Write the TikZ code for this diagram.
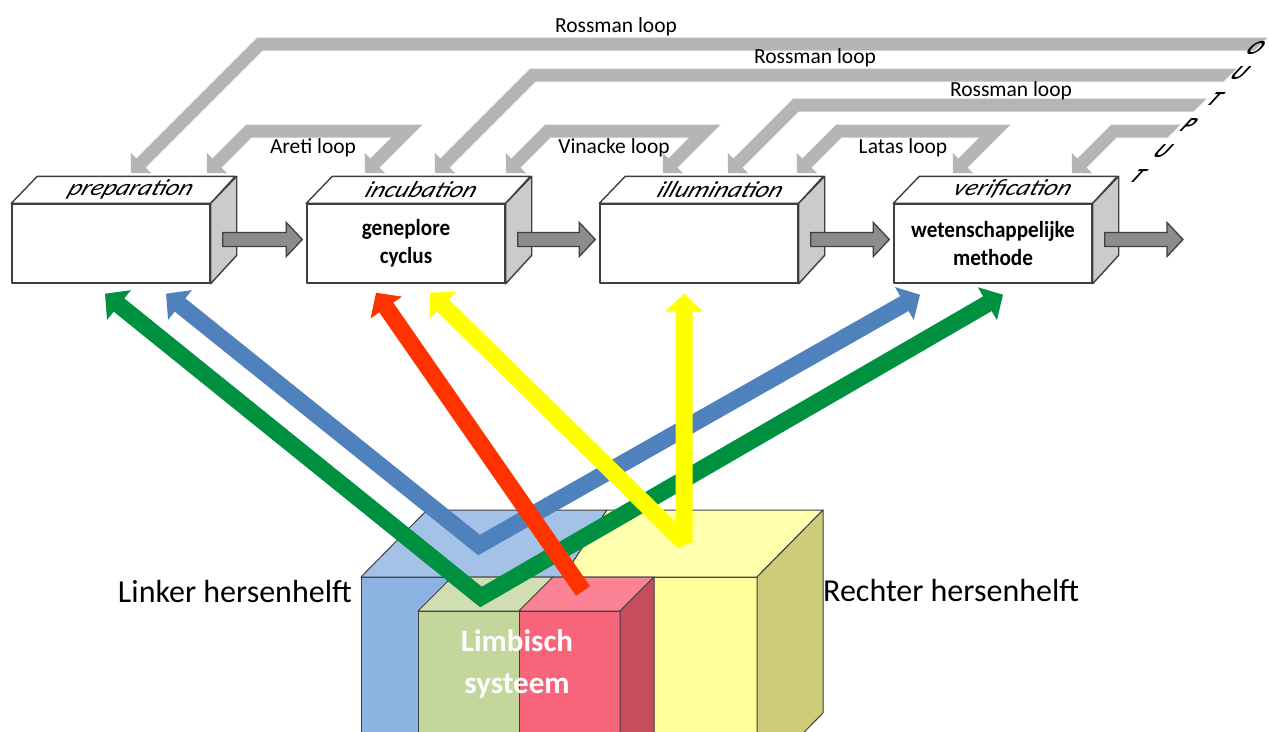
\documentclass[tikz,border=0pt]{standalone}
\usepackage{fontspec}
\setmainfont{Carlito}
\newfontfamily\stagefont{Carlito}[FakeStretch=1.12]
\newfontfamily\condfont{Carlito}[FakeStretch=0.92]
\usetikzlibrary{arrows.meta,calc}

\definecolor{edgecol}{HTML}{3F3F3F}
\definecolor{sidegray}{HTML}{CBCBCB}
\definecolor{flowgray}{HTML}{8C8C8C}
\definecolor{bandgray}{HTML}{B5B5B5}
\definecolor{pathgreen}{HTML}{009140}
\definecolor{pathblue}{HTML}{4F81BD}
\definecolor{pathred}{HTML}{FF3300}
\definecolor{pathyellow}{HTML}{FFFF00}
\definecolor{cubeblue}{HTML}{8DB3E2}
\definecolor{cubebluetop}{HTML}{A4C2E8}
\definecolor{cubeyellow}{HTML}{FFFF99}
\definecolor{cubeyellowtop}{HTML}{FFFFAD}
\definecolor{cubeyellowside}{HTML}{CCCC7A}
\definecolor{cubegreen}{HTML}{C3D69B}
\definecolor{cubegreentop}{HTML}{D0DEB2}
\definecolor{cubered}{HTML}{F8647A}
\definecolor{cuberedtop}{HTML}{FB8395}
\definecolor{cuberedside}{HTML}{C64C5E}

\tikzset{
  edge/.style={draw=edgecol, line width=1.4pt, line join=round},
  frontface/.style={edge, fill=white, minimum width=198pt, minimum height=79pt,
    inner sep=0pt, align=center, font=\condfont\bfseries\fontsize{23}{28}\selectfont},
  stagelabel/.style={font=\stagefont\itshape\fontsize{23}{23}\selectfont,
    xslant=0.4, transform shape, inner sep=0pt},
  looplabel/.style={font=\fontsize{21.5}{24}\selectfont, anchor=base, inner sep=0pt},
  hemilabel/.style={font=\fontsize{32}{36}\selectfont, inner sep=0pt},
  outletter/.style={font=\bfseries\itshape\fontsize{20}{20}\selectfont, xslant=0.8,
    transform shape, inner sep=0pt},
  blockarrow/.style={draw=edgecol, line width=1.3pt, fill=flowgray, line join=miter},
  loopband/.style={draw=bandgray, line width=13pt, line join=miter},
  bandtip/.style={-{Triangle[length=14pt,width=28pt]}},
  bandtips/.style={{Triangle[length=14pt,width=28pt]}-{Triangle[length=14pt,width=28pt]}},
  flow/.style={line width=17pt, line join=miter},
  flowtip/.style={-{Triangle[length=18pt,width=37pt]}},
  flowtips/.style={{Triangle[length=18pt,width=37pt]}-{Triangle[length=18pt,width=37pt]}},
  cubeface/.style={draw=edgecol, line width=1pt, line join=round},
}

% grey block arrow from the side of one stage box to the next
\newcommand\stepflow[2]{%
  \path ($(#1.east)+(12,-4)$) coordinate (fa) ($(#2)+(-4,-4)$) coordinate (fb);
  \draw[blockarrow] ($(fa)+(0,-7)$) -- ($(fb)+(-16,-7)$) -- ($(fb)+(-16,-17)$) -- (fb)
    -- ($(fb)+(-16,17)$) -- ($(fb)+(-16,7)$) -- ($(fa)+(0,7)$) -- cycle;}

% top and side face of a stage box
\newcommand\boxfaces[1]{%
  \draw[edge, fill=white] (#1.north west) -- ++(26,-27) -- ++(198,0) -- (#1.north east) -- cycle;
  \draw[edge, fill=sidegray] (#1.north east) -- ++(26,-27) -- ++(0,79) -- (#1.south east) -- cycle;}

\begin{document}
\begin{tikzpicture}[x=1pt,y=-1pt]
\useasboundingbox (0,0) rectangle (1269,731);

% ---- feedback loops ----
\begin{scope}
  \clip (0,0) -- (1305,0) -- (0,1305) -- cycle;
  \draw[loopband, bandtip] (1330,44) -- (260,44) -- (131,173);
  \draw[loopband, bandtip] (1330,75) -- (533,75) -- (435,173);
  \draw[loopband, bandtip] (1330,105) -- (796,105) -- (728,173);
  \draw[loopband, bandtip] (1330,131) -- (1114,131) -- (1072,173);
  \draw[loopband, bandtips] (207,173) -- (249,131) -- (407,131) -- (365,173);
  \draw[loopband, bandtips] (506,173) -- (548,131) -- (705,131) -- (663,173);
  \draw[loopband, bandtips] (797,173) -- (839,131) -- (995,131) -- (953,173);
\end{scope}

\node[looplabel] (ross1) at (616,32) {Rossman loop};
\node[looplabel] (ross2) at (815,63) {Rossman loop};
\node[looplabel] (ross3) at (1011,96) {Rossman loop};
\node[looplabel] (areti) at (313,153) {Areti loop};
\node[looplabel] (vinacke) at (614,153) {Vinacke loop};
\node[looplabel] (latas) at (903,153) {Latas loop};

\node[outletter] (o1) at (1256,48) {O};
\node[outletter] (o2) at (1240,73) {U};
\node[outletter] (o3) at (1215,99) {T};
\node[outletter] (o4) at (1189,125) {P};
\node[outletter] (o5) at (1163,151) {U};
\node[outletter] (o6) at (1138,176) {T};

% ---- stage boxes ----
\node[frontface] (b1) at (111,243.5) {};
\node[frontface] (b2) at (406,243.5) {geneplore\\cyclus};
\node[frontface] (b3) at (699,243.5) {};
\node[frontface] (b4) at (993,243.5) {wetenschappelijke\\methode};
\foreach \b in {b1,b2,b3,b4} {\boxfaces{\b}}
\node[stagelabel] (h1) at ($(b1.north)+(20,-14)$) {preparation};
\node[stagelabel] (h2) at ($(b2.north)+(16,-14)$) {incubation};
\node[stagelabel] (h3) at ($(b3.north)+(22,-14)$) {illumination};
\node[stagelabel] (h4) at ($(b4.north)+(20,-14)$) {verification};

\coordinate (exit) at (1187,243.5);
\stepflow{b1}{b2.west}
\stepflow{b2}{b3.west}
\stepflow{b3}{b4.west}
\stepflow{b4}{exit}

% ---- brain blocks ----
\filldraw[cubeface, fill=cubeblue] (361,577) rectangle (563,760);
\filldraw[cubeface, fill=cubebluetop] (361,577) -- (427,510) -- (607,510) -- (563,577) -- cycle;
\filldraw[cubeface, fill=cubeyellow] (563,577) rectangle (757,780);
\filldraw[cubeface, fill=cubeyellowtop] (563,577) -- (607,510) -- (823,510) -- (757,577) -- cycle;
\filldraw[cubeface, fill=cubeyellowside] (757,577) -- (823,510) -- (823,713) -- (757,780) -- cycle;
\filldraw[cubeface, fill=cubegreen] (418,611) rectangle (519,760);
\filldraw[cubeface, fill=cubegreentop] (418,611) -- (452,577) -- (553,577) -- (519,611) -- cycle;
\filldraw[cubeface, fill=cubered] (519,611) rectangle (620,760);
\filldraw[cubeface, fill=cuberedtop] (519,611) -- (553,577) -- (654,577) -- (620,611) -- cycle;
\filldraw[cubeface, fill=cuberedside] (620,611) -- (654,577) -- (654,760) -- (620,760) -- cycle;

\node[font=\bfseries\fontsize{31}{42}\selectfont, text=white, align=center, inner sep=0pt]
  (limbic) at (517,664) {Limbisch\\systeem};
\node[hemilabel, anchor=base east] (left) at (352,602) {Linker hersenhelft};
\node[hemilabel, anchor=base west] (right) at (823,601) {Rechter hersenhelft};

% ---- coloured pathways ----
\coordinate (gV) at (481,597);
\coordinate (bV) at (479,545);
\coordinate (rT) at (583,591);
\coordinate (yV) at (684,542);
\draw[flow, flowtips, draw=pathblue] ($(b1.south)+(55,10)$) -- (bV) -- ($(b4.south)+(-73,11)$);
\draw[flow, flowtips, draw=pathgreen] ($(b1.south)+(-6,10)$) -- (gV) -- ($(b4.south)+(10,11)$);
\draw[flow, flowtip, draw=pathred] (rT) -- ($(b2.south)+(-30,9)$);
\draw[flow, flowtips, draw=pathyellow, line join=bevel] ($(b2.south)+(24,9)$) -- (yV) -- ($(b3.south)+(-15,10)$);

\end{tikzpicture}
\end{document}
